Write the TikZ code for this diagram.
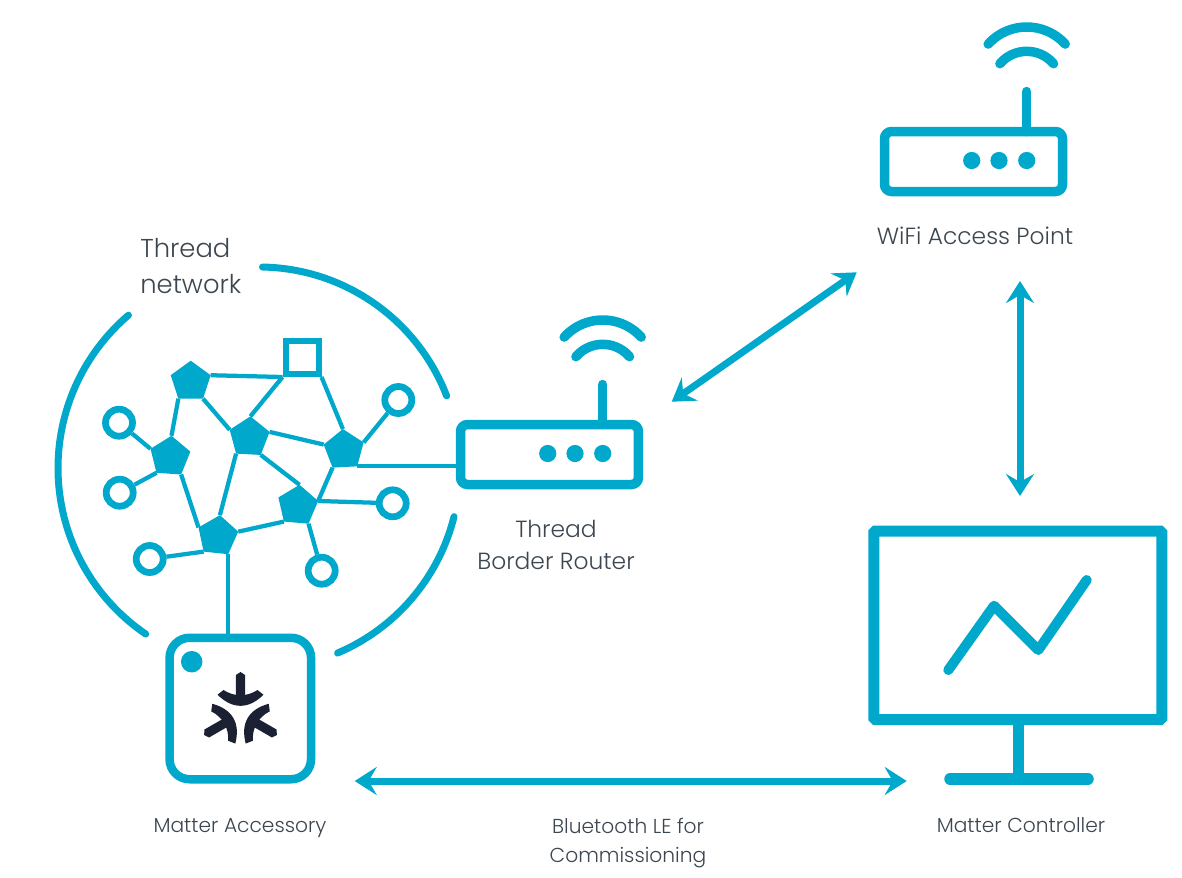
\documentclass[tikz,border=0pt]{standalone}
\usepackage{fontspec}
\setmainfont{Poppins}[UprightFont=* Light]
\usepackage{xcolor}
\usetikzlibrary{positioning}
\usetikzlibrary{arrows.meta}
\usetikzlibrary{shapes.geometric}
\definecolor{matterblue}{HTML}{00A8CC}
\definecolor{labelgrey}{HTML}{3C4650}
\definecolor{logodark}{HTML}{1B2033}
\tikzset{
    pent/.style={regular polygon, regular polygon sides=5, minimum size=0.84cm, inner sep=0pt, outer sep=0pt, fill=matterblue},
    leafnode/.style={circle, draw=matterblue, fill=white, line width=0.135cm, minimum size=0.54cm, inner sep=0pt},
    link/.style={draw=matterblue, line width=0.085cm},
    ring/.style={draw=matterblue, line width=0.14cm, line cap=round},
    routerbox/.style={draw=matterblue, fill=white, line width=0.19cm, rounded corners=0.14cm, minimum width=3.56cm, minimum height=1.2cm, inner sep=0pt},
    duplex/.style={draw=matterblue, line width=0.14cm, {Stealth[length=0.44cm, width=0.56cm, inset=0.16cm]}-{Stealth[length=0.44cm, width=0.56cm, inset=0.16cm]}},
    lbl/.style={text=labelgrey, align=center, inner sep=0pt, font=\fontsize{13.3}{18.7}\selectfont},
    smalllbl/.style={text=labelgrey, align=center, inner sep=0pt, font=\fontsize{11.5}{17}\selectfont},
    wifi/.pic={
        \draw[matterblue, line width=0.19cm, line cap=round] (53.2,-30) -- (53.2,-70);
        \draw[matterblue, line width=0.19cm, line cap=round] (53.2,-82.5) ++(222.2:52) arc[start angle=222.2, end angle=317.8, radius=52];
        \draw[matterblue, line width=0.19cm, line cap=round] (53.2,-75) ++(220.4:35.2) arc[start angle=220.4, end angle=319.6, radius=35.2];
        \foreach \dx in {-1.8,25.5,53.2}
            \fill[matterblue] (\dx,-1) circle[radius=8.6];
    },
    matterlogo/.pic={
        \foreach \a in {0,120,240} {
            \begin{scope}[rotate=\a]
                \fill[logodark] (0,-42) -- (4.6,-39) -- (4.6,-16) -- (-4.6,-16) -- (-4.6,-39) -- cycle;
                \fill[logodark] (-23,-19.3) .. controls (-8,-4.5) and (8,-4.5) .. (23,-19.3) -- (17,-24) .. controls (6,-17) and (-6,-17) .. (-17,-24) -- cycle;
            \end{scope}
        }
    }
}
\begin{document}
\begin{tikzpicture}[x=0.02cm, y=-0.02cm]
    \useasboundingbox (0,0) rectangle (1182,877);

    \draw[ring] (259,468) ++(124.3:201) arc[start angle=124.3, end angle=229.5, radius=201];
    \draw[ring] (259,468) ++(271:201) arc[start angle=271, end angle=339, radius=201];
    \draw[ring] (259,468) ++(14:201) arc[start angle=14, end angle=67, radius=201];

    \node (p1) [pent] at (190.7,381.7) {};
    \node (p2) [pent, shape border rotate=-4] at (170,456.7) {};
    \node (p3) [pent, shape border rotate=-3] at (249.3,437.3) {};
    \node (p4) [pent, shape border rotate=3] at (344,450) {};
    \node (p5) [pent, shape border rotate=-5] at (297.7,505.7) {};
    \node (p6) [pent, shape border rotate=-6] at (217.7,536) {};
    \node (sq) [draw=matterblue, line width=0.12cm, minimum size=0.66cm, inner sep=0pt] at (302,357.5) {};

    \node (c1) [leafnode] at (119,422.7) {};
    \node (c2) [leafnode] at (119.7,492.7) {};
    \node (c3) [leafnode] at (149.7,559) {};
    \node (c4) [leafnode] at (398.3,400) {};
    \node (c5) [leafnode] at (392.7,503.3) {};
    \node (c6) [leafnode] at (321.7,570.7) {};

    \foreach \from/\to in {p1.corner 5/sq.south west, p3.corner 1/sq.south west, sq.south east/p4.corner 1,
        p1.corner 3/p2.corner 1, p1.corner 4/p3.corner 2, p3.corner 5/p4.corner 2, p3.corner 4/p5.corner 1,
        p3.corner 3/p6.corner 1, p2.corner 4/p6.corner 2, p4.corner 3/p5.corner 5, p5.corner 3/p6.corner 5,
        p2.corner 2/c1, p2.corner 3/c2, p6.corner 3/c3, p4.corner 5/c4, p5.corner 5/c5, p5.corner 4/c6}
        \draw[link] (\from) -- (\to);

    \node (tbr) [routerbox] at (549.5,454.5) {};
    \pic at (tbr) {wifi};
    \node (wap) [routerbox] at (973.5,161.5) {};
    \pic at (wap) {wifi};

    \node (acc) [draw=matterblue, fill=white, line width=0.17cm, rounded corners=0.4cm, minimum size=2.83cm, inner sep=0pt] at (240.3,708.5) {};
    \node (accled) [circle, fill=matterblue, minimum size=0.43cm, inner sep=0pt] at (191.7,661.7) {};
    \pic at (240.5,714) {matterlogo};

    \draw[link] (p4.corner 4) -- (p4.corner 4 -| tbr.west);
    \draw[link] (p6.corner 4) -- (p6.corner 4 |- acc.north);

    \node (mon) [draw=matterblue, line width=0.22cm, rounded corners=0.03cm, minimum width=5.76cm, minimum height=3.77cm, inner sep=0pt] at (1017.8,625.3) {};
    \coordinate (basel) at (950,779);
    \coordinate (baser) at (1088,779);
    \draw[matterblue, line width=0.22cm] ([xshift=0.02cm]mon.south) -- ([xshift=0.02cm]mon.south |- basel);
    \draw[matterblue, line width=0.23cm, line cap=round] (basel) -- (baser);
    \draw[matterblue, line width=0.2cm, line cap=round, line join=round] (948.3,670) -- (994,605.7) -- (1038.3,650) -- (1086.7,580);

    \coordinate (tbrport) at (671.7,401.7);
    \coordinate (wapport) at (856.7,272.3);
    \coordinate (waplow) at (1020,281);
    \coordinate (montop) at (1020,496);
    \coordinate (accport) at (354.7,781);
    \coordinate (monport) at (906.7,781);
    \draw[duplex] (tbrport) -- (wapport);
    \draw[duplex] (waplow) -- (montop);
    \draw[duplex] (accport) -- (monport);

    \node (netlbl) [lbl, align=left, anchor=west, font=\fontsize{14.7}{21}\selectfont] at (140,266) {Thread\\network};
    \node (waplbl) [lbl] at (975,236) {WiFi Access Point};
    \node (tbrlbl) [lbl] at (556,545) {Thread\\Border Router};
    \node (acclbl) [smalllbl] at (240,828) {Matter Accessory};
    \node (blelbl) [smalllbl] at (628,843) {Bluetooth LE for\\Commissioning};
    \node (ctrllbl) [smalllbl] at (1021,825) {Matter Controller};
\end{tikzpicture}
\end{document}
